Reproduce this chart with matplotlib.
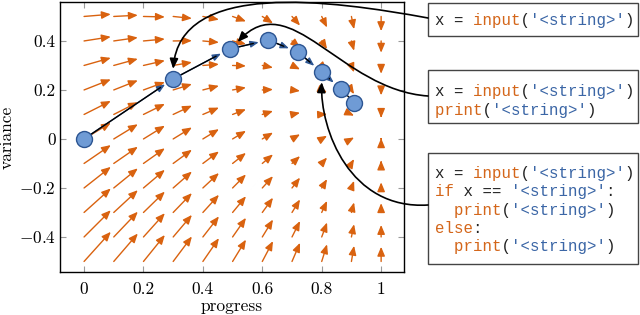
import matplotlib
matplotlib.use("Agg")
import matplotlib.pyplot as plt
from matplotlib.patches import FancyArrowPatch, Rectangle
from matplotlib.path import Path
from matplotlib.transforms import IdentityTransform
import numpy as np

plt.rcParams["font.family"] = "serif"
plt.rcParams["font.serif"] = ["cmr10"]
plt.rcParams["mathtext.fontset"] = "cm"
plt.rcParams["axes.formatter.use_mathtext"] = True

# vector field grid
grid_x = [0.0, 0.1, 0.2, 0.3, 0.4, 0.5, 0.6, 0.7, 0.8, 0.9, 1.0]
grid_y = [-0.5, -0.4, -0.3, -0.2, -0.1, 0.0, 0.1, 0.2, 0.3, 0.4, 0.5]
# horizontal component per column
field_u = [0.09, 0.081, 0.072, 0.063, 0.054, 0.045, 0.036, 0.027, 0.018, 0.009, 0.0]
# vertical component, one row per grid_y value
field_v = [
    [0.121, 0.114, 0.108, 0.102, 0.095, 0.089, 0.083, 0.076, 0.070, 0.064, 0.060],
    [0.109, 0.103, 0.097, 0.090, 0.084, 0.078, 0.071, 0.065, 0.059, 0.052, 0.049],
    [0.098, 0.091, 0.085, 0.079, 0.072, 0.066, 0.060, 0.053, 0.047, 0.041, 0.038],
    [0.086, 0.080, 0.074, 0.067, 0.061, 0.055, 0.048, 0.042, 0.036, 0.029, 0.023],
    [0.075, 0.068, 0.062, 0.056, 0.049, 0.043, 0.037, 0.030, 0.024, 0.018, 0.012],
    [0.066, 0.060, 0.054, 0.047, 0.040, 0.033, 0.026, 0.019, 0.013, 0.006, 0.003],
    [0.055, 0.050, 0.043, 0.036, 0.028, 0.021, 0.014, 0.007, 0.001, -0.005, -0.014],
    [0.043, 0.039, 0.032, 0.024, 0.017, 0.010, 0.002, -0.004, -0.010, -0.017, -0.022],
    [0.031, 0.027, 0.020, 0.013, 0.005, -0.002, -0.009, -0.016, -0.022, -0.028, -0.034],
    [0.017, 0.014, 0.008, 0.001, -0.006, -0.013, -0.020, -0.027, -0.033, -0.040, -0.048],
    [0.009, 0.005, -0.002, -0.008, -0.013, -0.020, -0.028, -0.037, -0.045, -0.052, -0.060],
]

# trajectory points
traj_x = [0.0, 0.30, 0.49, 0.62, 0.72, 0.80, 0.865, 0.91]
traj_y = [0.0, 0.245, 0.367, 0.404, 0.355, 0.273, 0.204, 0.147]

x_ticks = [0, 0.2, 0.4, 0.6, 0.8, 1]
x_ticklabels = ["0", "0.2", "0.4", "0.6", "0.8", "1"]
y_ticks = [-0.4, -0.2, 0, 0.2, 0.4]
y_ticklabels = ["$-0.4$", "$-0.2$", "0", "0.2", "0.4"]

orange = "#d9620f"
blue_fill = "#6f9bd5"
blue_edge = "#2c5592"
code_orange = "#d4661a"
code_blue = "#3b66a6"
code_black = "#222222"

# code snippets: (text, colour) tokens per line
snippet_1 = [
    [("x = ", code_black), ("input", code_orange), ("(", code_black),
     ("'<string>'", code_blue), (")", code_black)],
]
snippet_2 = [
    [("x = ", code_black), ("input", code_orange), ("(", code_black),
     ("'<string>'", code_blue), (")", code_black)],
    [("print", code_orange), ("(", code_black), ("'<string>'", code_blue), (")", code_black)],
]
snippet_3 = [
    [("x = ", code_black), ("input", code_orange), ("(", code_black),
     ("'<string>'", code_blue), (")", code_black)],
    [("if", code_orange), (" x == ", code_black), ("'<string>'", code_blue), (":", code_black)],
    [("  ", code_black), ("print", code_orange), ("(", code_black),
     ("'<string>'", code_blue), (")", code_black)],
    [("else", code_orange), (":", code_black)],
    [("  ", code_black), ("print", code_orange), ("(", code_black),
     ("'<string>'", code_blue), (")", code_black)],
]

W, H = 640, 315
fig = plt.figure(figsize=(6.4, 3.15), dpi=100)
ax = fig.add_axes([60 / W, 1 - 272 / H, 344 / W, 270 / H])

for i, yv in enumerate(grid_y):
    for j, xv in enumerate(grid_x):
        ax.annotate(
            "",
            xy=(xv + field_u[j], yv + field_v[i][j]),
            xytext=(xv, yv),
            arrowprops=dict(
                arrowstyle="-|>,head_length=0.6,head_width=0.25",
                color=orange,
                lw=1.0,
                shrinkA=0,
                shrinkB=0,
                mutation_scale=9,
            ),
            zorder=2,
        )

for i in range(len(traj_x) - 1):
    a = (traj_x[i], traj_y[i])
    b = (traj_x[i + 1], traj_y[i + 1])
    ax.annotate(
        "", xy=b, xytext=a,
        arrowprops=dict(arrowstyle="-|>,head_length=0.55,head_width=0.22",
                        color=blue_edge, lw=1.0, shrinkA=6, shrinkB=7, mutation_scale=9),
        zorder=3,
    )
    ax.annotate(
        "", xy=b, xytext=a,
        arrowprops=dict(arrowstyle="-", color="black", lw=1.0, shrinkA=6, shrinkB=11),
        zorder=3,
    )

ax.plot(traj_x, traj_y, "o", ms=11.5, mfc=blue_fill, mec=blue_edge, mew=1.0,
        zorder=4, clip_on=False)

ax.set_xlim(-0.081, 1.077)
ax.set_ylim(-0.543, 0.559)
ax.set_xticks(x_ticks)
ax.set_xticklabels(x_ticklabels)
ax.set_yticks(y_ticks)
ax.set_yticklabels(y_ticklabels)
ax.tick_params(direction="in", top=True, right=True, length=4, width=0.8,
               color="#9a9a9a", labelsize=12.5)
ax.tick_params(axis="x", pad=7)
ax.tick_params(axis="y", pad=3)
for s in ax.spines.values():
    s.set_linewidth(1.0)
ax.set_xlabel("progress", fontsize=12.5, labelpad=1)
ax.set_ylabel("variance", fontsize=12.5, labelpad=3)


def px(x, y):
    # figure pixel (from top-left) -> display coordinates
    return (x, H - y)


def draw_box(x0, y0, x1, y1, lines, first_y, step):
    fig.add_artist(Rectangle((x0 / W, 1 - y1 / H), (x1 - x0) / W, (y1 - y0) / H,
                             transform=fig.transFigure, fill=False,
                             ec="#444444", lw=1.0))
    for k, tokens in enumerate(lines):
        for colour in set(c for _, c in tokens):
            masked = "".join(t if c == colour else " " * len(t) for t, c in tokens)
            fig.text(435 / W, 1 - (first_y + k * step) / H, masked,
                     family="Liberation Mono", fontsize=11.3, color=colour,
                     ha="left", va="center")


draw_box(428, 3, 638, 36, snippet_1, 20, 18.5)
draw_box(428, 70, 638, 123, snippet_2, 91.5, 18.5)
draw_box(428, 153, 638, 264, snippet_3, 173, 18.5)


def connector(start, c1, c2, end_data, end_offset):
    ex, ey = ax.transData.transform(end_data)
    end = (ex + end_offset[0], ey - end_offset[1])
    verts = [px(*start), px(*c1), px(*c2), end]
    path = Path(verts, [Path.MOVETO, Path.CURVE4, Path.CURVE4, Path.CURVE4])
    arr = FancyArrowPatch(path=path, arrowstyle="-|>,head_length=0.6,head_width=0.25",
                          mutation_scale=10, color="black", lw=1.2,
                          transform=IdentityTransform(), zorder=5)
    fig.add_artist(arr)


connector((428, 18), (330, 0), (180, -20), (traj_x[1], traj_y[1]), (0, -10))
connector((428, 96), (340, 90), (290, -15), (traj_x[2], traj_y[2]), (8, -7))
connector((428, 205), (350, 210), (320, 130), (traj_x[5], traj_y[5]), (0, 10))

fig.savefig("out.png", dpi=100)
